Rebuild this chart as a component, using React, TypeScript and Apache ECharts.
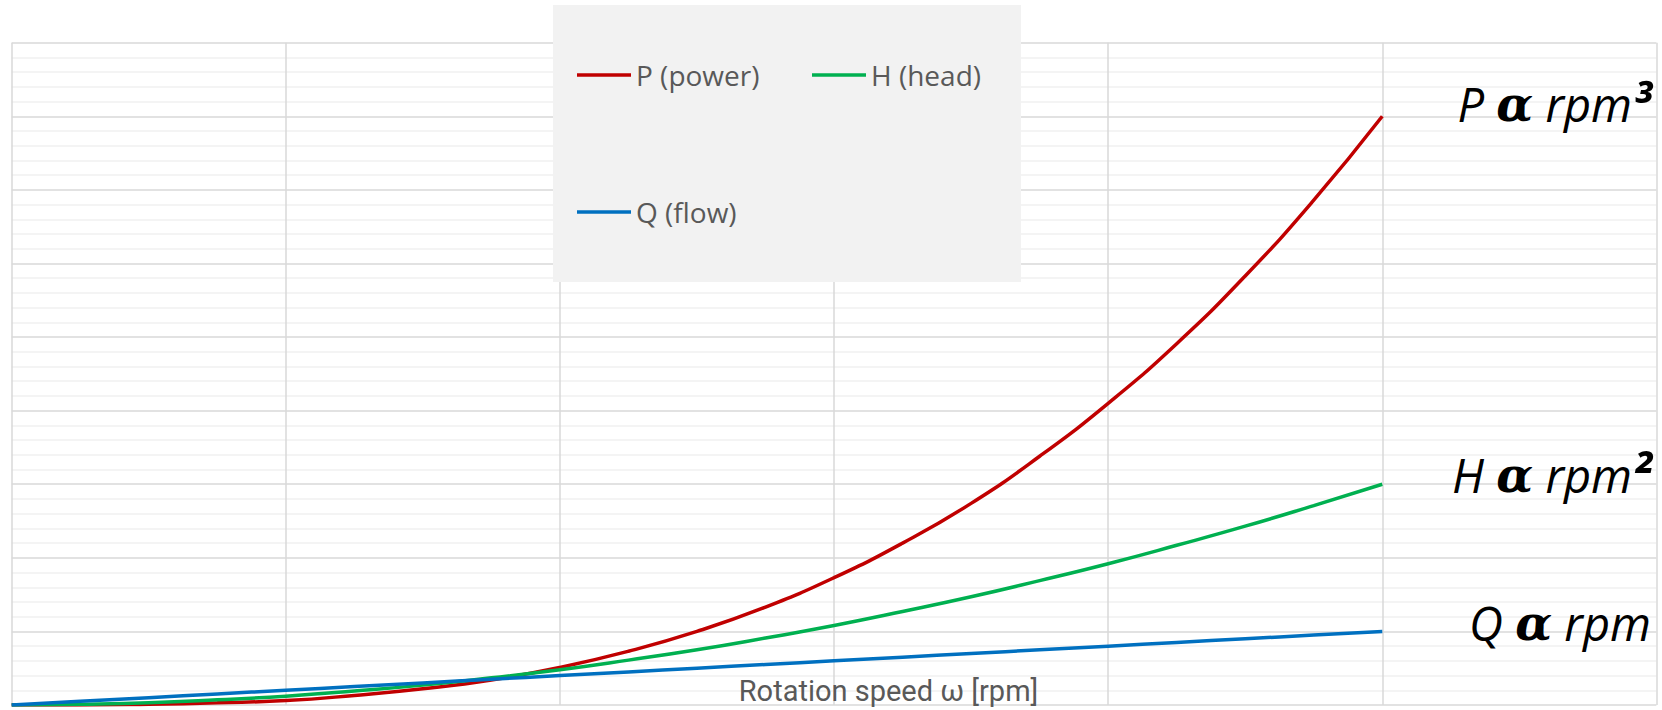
import React, { useEffect, useRef } from "react";
import * as echarts from "echarts";

// Rotation speed (in grid units)
const speed = [0, 0.25, 0.5, 0.75, 1, 1.25, 1.5, 1.75, 2, 2.25, 2.5, 2.75, 3, 3.25, 3.5, 3.75, 4, 4.25, 4.5, 4.75, 5];
// P (power) values
const powerP = [0, 0.0, 0.01, 0.03, 0.06, 0.13, 0.22, 0.34, 0.51, 0.73, 1.0, 1.33, 1.73, 2.2, 2.74, 3.38, 4.1, 4.91, 5.83, 6.86, 8.0];
// H (head) values
const headH = [0, 0.01, 0.03, 0.07, 0.12, 0.19, 0.27, 0.37, 0.48, 0.61, 0.75, 0.91, 1.08, 1.27, 1.47, 1.69, 1.92, 2.17, 2.43, 2.71, 3.0];
// Q (flow) values
const flowQ = [0, 0.05, 0.1, 0.15, 0.2, 0.25, 0.3, 0.35, 0.4, 0.45, 0.5, 0.55, 0.6, 0.65, 0.7, 0.75, 0.8, 0.85, 0.9, 0.95, 1.0];

const seriesNames = ["P (power)", "H (head)", "Q (flow)"];
const seriesColors = ["#c00000", "#00b050", "#0070c0"];
const lawLabels = [
  { a: "P", b: "rpm", s: "³" },
  { a: "H", b: "rpm", s: "²" },
  { a: "Q", b: "rpm", s: "" },
];
const xAxisTitle = "Rotation speed ω [rpm]";

function pairs(ys: number[]) {
  return speed.map((x, i) => [x, ys[i]]);
}

export default function App() {
  const ref = useRef<HTMLDivElement>(null);
  useEffect(() => {
    if (!ref.current) return;
    const chart = echarts.init(ref.current, undefined, { renderer: "svg" });
    const values = [powerP, headH, flowQ];
    const legendTops = [61, 61, 198];
    const legendLefts = [577, 812, 577];
    const labelYs = [104, 475, 623];
    const italicFont = "'Open Sans', 'Noto Sans', sans-serif";
    chart.setOption({
      animation: false,
      backgroundColor: "#ffffff",
      grid: { left: 11.7, right: 5.6, top: 42.7, bottom: 5, containLabel: false },
      xAxis: {
        type: "value",
        min: 0,
        max: 6,
        interval: 1,
        axisLabel: { show: false },
        axisTick: { show: false },
        axisLine: { show: false },
        splitLine: { show: true, lineStyle: { color: "#d9d9d9", width: 1.5 } },
      },
      yAxis: {
        type: "value",
        min: 0,
        max: 9,
        interval: 1,
        axisLabel: { show: false },
        axisTick: { show: false },
        axisLine: { show: false },
        splitLine: { show: true, lineStyle: { color: "#d9d9d9", width: 1.5 } },
        minorTick: { show: false, splitNumber: 5 },
        minorSplitLine: { show: true, lineStyle: { color: "#f0f0f0", width: 1.5 } },
      },
      legend: seriesNames.map((n, i) => ({
        data: [n],
        left: legendLefts[i],
        top: legendTops[i],
        padding: 0,
        icon: "rect",
        itemWidth: 54,
        itemHeight: 3.5,
        z: 10,
        textStyle: { fontFamily: "'Open Sans', 'Noto Sans', sans-serif", fontSize: 28, color: "#595959" },
      })),
      graphic: [
        {
          type: "rect",
          z: 5,
          shape: { x: 553, y: 5, width: 468, height: 277 },
          style: { fill: "#f2f2f2" },
        },
        ...lawLabels.map((l, i) => ({
          type: "text",
          z: 10,
          x: 1651,
          y: labelYs[i],
          style: {
            text: `{i|${l.a}} {g|α} {i|${l.b}}` + (l.s ? `{s|${l.s}}` : ""),
            align: "right",
            verticalAlign: "middle",
            rich: {
              i: { fontFamily: italicFont, fontStyle: "italic", fontSize: 47, fill: "#000" },
              s: { fontFamily: italicFont, fontStyle: "italic", fontWeight: "bold", fontSize: 50, fill: "#000" },
              g: { fontFamily: "'DejaVu Serif', serif", fontStyle: "italic", fontWeight: "bold", fontSize: 48, fill: "#000" },
            },
            fontSize: 47,
            fontFamily: italicFont,
          },
        })),
        {
          type: "text",
          z: 10,
          x: 888.5,
          y: 691,
          style: {
            text: xAxisTitle,
            align: "center",
            verticalAlign: "middle",
            fontFamily: "'Liberation Sans Narrow', 'Roboto', sans-serif",
            fontSize: 29,
            fill: "#595959",
          },
        },
      ],
      series: seriesNames.map((n, i) => ({
        name: n,
        type: "line",
        data: pairs(values[i]),
        smooth: true,
        showSymbol: false,
        symbol: "none",
        lineStyle: { color: seriesColors[i], width: 3.5 },
        itemStyle: { color: seriesColors[i] },
      })),
    });
    return () => chart.dispose();
  }, []);
  return (
    <div
      ref={ref}
      style={{ position: "fixed", left: 0, top: 0, width: 1662, height: 710, background: "#fff" }}
    />
  );
}
